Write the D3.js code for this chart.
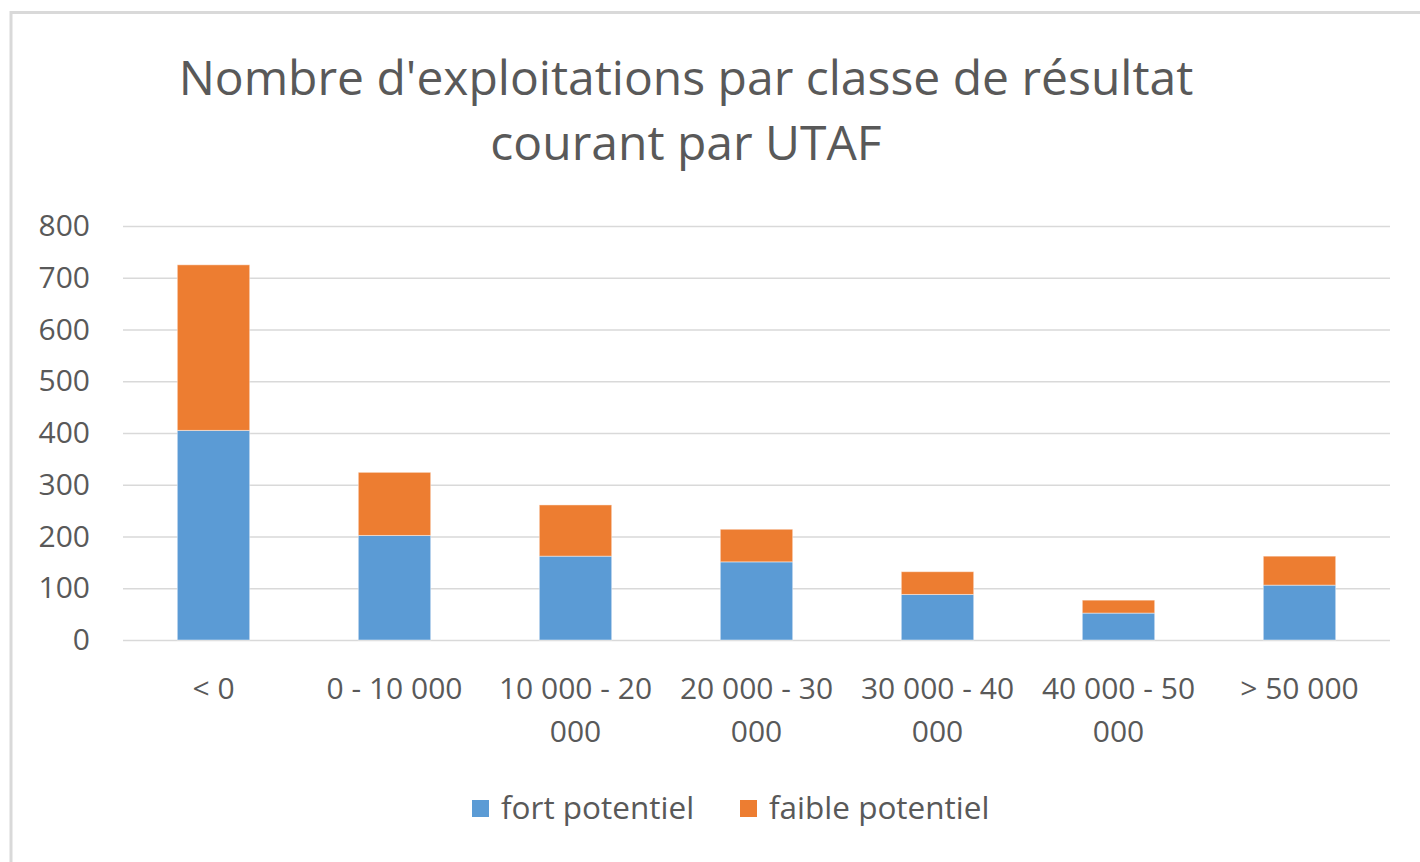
<!DOCTYPE html>
<html>
<head>
<meta charset="utf-8">
<script src="https://cdn.jsdelivr.net/npm/d3@7/dist/d3.min.js"></script>
<style>
  html, body { margin: 0; padding: 0; background: #fff; }
  svg { display: block; }
  text { font-family: "Open Sans", "Noto Sans", sans-serif; fill: #595959; }
</style>
</head>
<body>
<svg id="chart" width="1420" height="862"></svg>
<script>
const categories = ["< 0", "0 - 10 000", "10 000 - 20 000", "20 000 - 30 000", "30 000 - 40 000", "40 000 - 50 000", "> 50 000"];
const fortPotentiel = [405, 202, 162, 151, 88, 52, 106];
const faiblePotentiel = [320, 122, 99, 63, 44, 25, 56];
const seriesNames = ["fort potentiel", "faible potentiel"];
const seriesColors = ["#5b9bd5", "#ed7d31"];
const yTicks = [0, 100, 200, 300, 400, 500, 600, 700, 800];
const titleLines = ["Nombre d'exploitations par classe de résultat", "courant par UTAF"];

const svg = d3.select("#chart");

// chart area border
svg.append("rect")
  .attr("x", 11).attr("y", 12.5)
  .attr("width", 1500).attr("height", 1000)
  .attr("fill", "#fff").attr("stroke", "#d9d9d9").attr("stroke-width", 3);

const plot = { left: 123, right: 1390, top: 226, bottom: 640 };

const x = d3.scaleBand().domain(categories).range([plot.left, plot.right]).paddingInner(0.6).paddingOuter(0.3);
const y = d3.scaleLinear().domain([0, 800]).range([plot.bottom, plot.top]);

// title
svg.append("text")
  .attr("text-anchor", "middle")
  .attr("font-size", 48)
  .selectAll("tspan").data(titleLines).join("tspan")
  .attr("x", 686)
  .attr("y", (d, i) => 95 + i * 65)
  .text(d => d);

// gridlines + y axis
const yAxis = d3.axisLeft(y).tickValues(yTicks).tickSize(plot.left - plot.right).tickPadding(33).tickFormat(d3.format("d"));
const gy = svg.append("g").attr("transform", `translate(${plot.left},0)`).call(yAxis);
gy.select(".domain").remove();
gy.selectAll(".tick line").attr("stroke", "#d9d9d9").attr("stroke-width", 1.5);
gy.selectAll(".tick text").attr("font-size", 30).attr("fill", "#595959")
  .attr("font-family", "'Open Sans', 'Noto Sans', sans-serif");

// stacked bars
const rows = categories.map((c, i) => ({ cat: c, fort: fortPotentiel[i], faible: faiblePotentiel[i] }));
const stack = d3.stack().keys(["fort", "faible"])(rows);
svg.append("g").selectAll("g").data(stack).join("g")
  .attr("fill", (d, i) => seriesColors[i])
  .selectAll("rect").data(d => d).join("rect")
  .attr("x", d => x(d.data.cat))
  .attr("width", x.bandwidth())
  .attr("y", d => y(d[1]))
  .attr("height", d => y(d[0]) - y(d[1]))
  .attr("stroke", "#ffffff").attr("stroke-opacity", 0.45).attr("stroke-width", 1);

// x axis labels
const xAxis = d3.axisBottom(x).tickSize(0).tickPadding(0);
const gx = svg.append("g").attr("transform", `translate(0,${plot.bottom})`).call(xAxis);
gx.select(".domain").remove();
gx.selectAll(".tick text").remove();
const maxW = x.step();
gx.selectAll(".tick").each(function(d) {
  const t = d3.select(this).append("text")
    .attr("text-anchor", "middle").attr("font-size", 30)
    .attr("font-family", "'Open Sans', 'Noto Sans', sans-serif").attr("fill", "#595959");
  const words = d.split(" ");
  let line = [], lineNo = 0;
  let tspan = t.append("tspan").attr("x", 0).attr("y", 59);
  for (const w of words) {
    line.push(w);
    tspan.text(line.join(" "));
    if (tspan.node().getComputedTextLength() > maxW - 4 && line.length > 1) {
      line.pop();
      tspan.text(line.join(" "));
      line = [w];
      lineNo++;
      tspan = t.append("tspan").attr("x", 0).attr("y", 59 + lineNo * 43).text(w);
    }
  }
});

// legend
const legendX = [472, 740];
const lg = svg.append("g").selectAll("g").data(seriesNames).join("g")
  .attr("transform", (d, i) => `translate(${legendX[i]},800)`);
lg.append("rect").attr("width", 17).attr("height", 17).attr("fill", (d, i) => seriesColors[i]);
lg.append("text").attr("x", 29).attr("y", 19).attr("font-size", 31.5).text(d => d);
</script>
</body>
</html>
